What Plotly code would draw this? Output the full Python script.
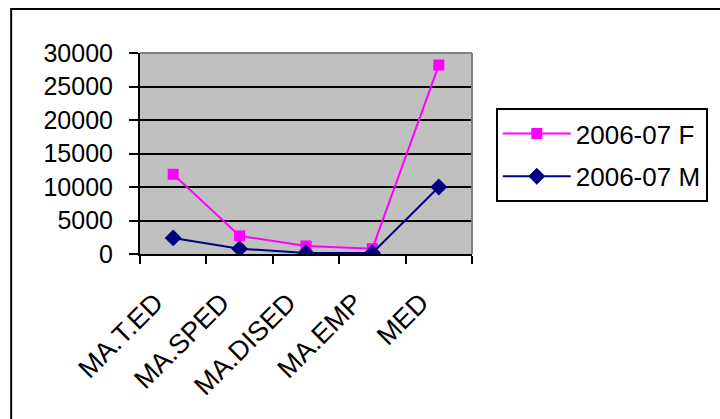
import plotly.graph_objects as go

categories = ["MA.T.ED", "MA.SPED", "MA.DISED", "MA.EMP", "MED"]
female_values = [11900, 2700, 1200, 800, 28200]
male_values = [2400, 800, 150, 150, 10000]
series_names = ["2006-07 F", "2006-07 M"]
y_ticks = [0, 5000, 10000, 15000, 20000, 25000, 30000]

FONT = "Liberation Sans, Arial, sans-serif"
FS = 25
L, R, T, B = 140, 245, 53, 165
W, H = 720, 419
pw = W - L - R
ph = H - T - B

fig = go.Figure()
fig.add_trace(go.Scatter(
    x=categories, y=female_values, name=series_names[0], mode="lines+markers",
    legendgroup="f",
    line=dict(color="#FF00FF", width=2),
    marker=dict(symbol="square", size=11, color="#FF00FF"),
))
fig.add_trace(go.Scatter(
    x=categories, y=male_values, name=series_names[1], mode="lines+markers",
    legendgroup="m",
    line=dict(color="#000080", width=2),
    marker=dict(symbol="diamond", size=13, color="#000080"),
))

fig.update_layout(
    width=W, height=H,
    margin=dict(l=L, r=R, t=T, b=B, pad=0),
    paper_bgcolor="white",
    plot_bgcolor="#C0C0C0",
    font=dict(family=FONT, size=FS, color="black"),
    showlegend=True,
    legend=dict(
        x=(499 - L) / pw, y=(T + ph - 108) / ph, xanchor="left", yanchor="top",
        bgcolor="white", bordercolor="black", borderwidth=2,
        font=dict(family=FONT, size=26, color="black"),
        traceorder="grouped", tracegroupgap=6, itemwidth=68,
    ),
    xaxis=dict(
        type="category", tickangle=-45, tickson="boundaries",
        ticks="outside", ticklen=8, tickwidth=2, tickcolor="black",
        showline=True, linecolor="black", linewidth=2,
        showgrid=False, zeroline=False,
        tickfont=dict(family=FONT, size=27),
        ticklabelshift=-18, ticklabelstandoff=20,
        range=[-0.5, 4.5],
    ),
    yaxis=dict(
        range=[0, 30000], tickvals=y_ticks, ticktext=[str(v) for v in y_ticks],
        ticks="outside", ticklen=9, tickwidth=2, tickcolor="black",
        showline=True, linecolor="black", linewidth=2,
        showgrid=True, gridcolor="black", gridwidth=2,
        zeroline=False, tickfont=dict(family=FONT, size=FS),
        ticklabelstandoff=11,
    ),
    shapes=[
        dict(type="rect", xref="paper", yref="paper",
             x0=(10 - L) / pw, x1=(W + 20 - L) / pw,
             y0=(T + ph - (H + 20)) / ph, y1=(T + ph - 9) / ph,
             line=dict(color="black", width=2), layer="below"),
        dict(type="line", xref="paper", yref="paper", x0=0, x1=1, y0=1, y1=1,
             line=dict(color="#808080", width=2)),
        dict(type="line", xref="paper", yref="paper", x0=1, x1=1, y0=0, y1=1,
             line=dict(color="#808080", width=2)),
    ],
)

fig.write_html("out.html", config={"displayModeBar": False},
               post_script="document.body.style.margin='0';")
